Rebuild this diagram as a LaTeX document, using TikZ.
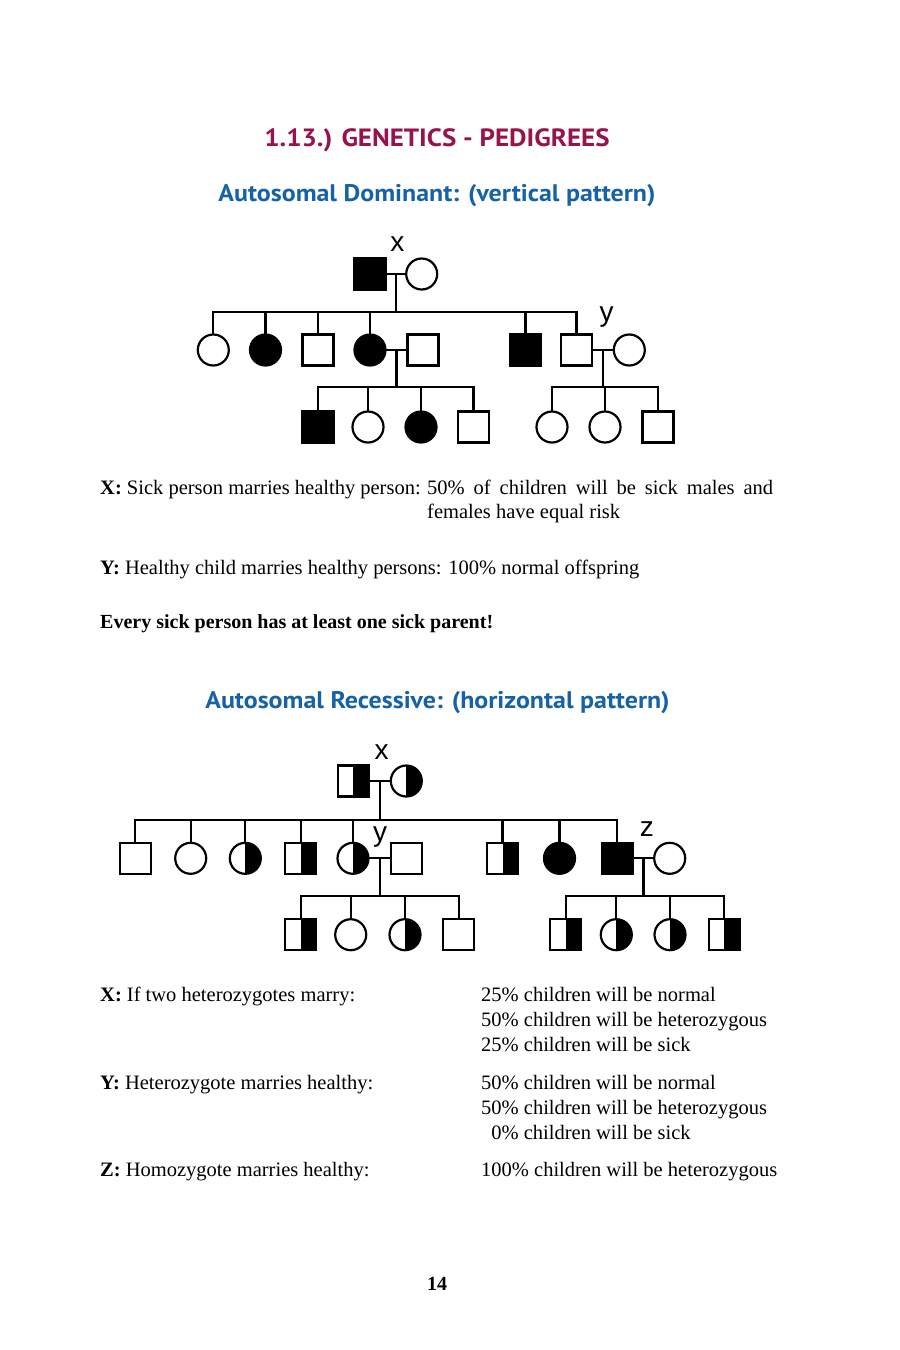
\documentclass[tikz,border=0pt]{standalone}
\usepackage{fontspec}
\setmainfont{Liberation Serif}
\newfontfamily\headfont[FakeStretch=1.08]{PT Sans}
\newfontfamily\labfont{Liberation Sans}
\usetikzlibrary{calc}
\definecolor{titlered}{RGB}{152,18,78}
\definecolor{headblue}{RGB}{22,98,168}
\begin{document}
\begin{tikzpicture}[x=1pt,y=-1pt,
  ind/.style={draw=black,line width=2.2pt,minimum size=31pt,inner sep=0pt,outer sep=0pt},
  msq/.style={ind,rectangle},
  fcirc/.style={ind,circle},
  aff/.style={fill=black},
  carrier/.style={path picture={\fill[black] (path picture bounding box.north) rectangle (path picture bounding box.south east);}},
  link/.style={line width=2.3pt,line join=miter},
  lab/.style={font=\labfont\fontsize{28}{28}\selectfont,anchor=base,inner sep=0pt},
  body/.style={font=\fontsize{20.5}{24}\selectfont,anchor=base west,inner sep=0pt},
  title/.style={font=\headfont\bfseries\fontsize{25}{30}\selectfont,text=titlered,anchor=base,inner sep=0pt},
  subtitle/.style={font=\headfont\bfseries\fontsize{24}{28}\selectfont,text=headblue,anchor=base,inner sep=0pt},
]
\fill[white] (0,0) rectangle (900,1350);
\useasboundingbox (0,0) rectangle (900,1350);

% ---------- titles ----------
\node[title] (t0) at (437,146.5) {1.13.) GENETICS - PEDIGREES};
\node[subtitle] (t1) at (437,201) {Autosomal Dominant: (vertical pattern)};
\node[subtitle] (t2) at (437.5,708) {Autosomal Recessive: (horizontal pattern)};

% ---------- dominant pedigree ----------
\node[msq,aff] (A1) at (370,274) {};
\node[fcirc] (A2) at (421.7,274) {};
\node[fcirc] (B1) at (213.3,350) {};
\node[fcirc,aff] (B2) at (265.5,350) {};
\node[msq] (B3) at (318,350) {};
\node[fcirc,aff] (B4) at (370,350) {};
\node[msq] (B5) at (423,350) {};
\node[msq,aff] (B6) at (525.5,350) {};
\node[msq] (B7) at (576.5,350) {};
\node[fcirc] (B8) at (629.3,350) {};
\node[msq,aff] (C1) at (318,427) {};
\node[fcirc] (C2) at (368,427) {};
\node[fcirc,aff] (C3) at (421,427) {};
\node[msq] (C4) at (473.5,427) {};
\node[fcirc] (C5) at (552,427) {};
\node[fcirc] (C6) at (605,427) {};
\node[msq] (C7) at (658,427) {};
\node[lab] (lx1) at (397.3,251.7) {x};
\node[lab] (ly1) at (606.7,321.7) {y};

\coordinate (bar1) at (0,312.3);
\coordinate (bar2) at (0,387.3);
\draw[link] (A1) -- (A2);
\coordinate (mA) at ($(A1.east)!0.5!(A2.west)$);
\draw[link] (mA) -- (mA |- bar1);
\draw[link] (B1.north) -- (B1.north |- bar1) -- (B7.north |- bar1) -- (B7.north);
\foreach \n in {B2,B3,B4,B6} \draw[link] (\n.north) -- (\n.north |- bar1);
\draw[link] (B4) -- (B5);
\coordinate (mB) at ($(B4.east)!0.5!(B5.west)$);
\draw[link] (mB) -- (mB |- bar2);
\draw[link] (C1.north) -- (C1.north |- bar2) -- (C4.north |- bar2) -- (C4.north);
\foreach \n in {C2,C3} \draw[link] (\n.north) -- (\n.north |- bar2);
\draw[link] (B7) -- (B8);
\coordinate (mC) at ($(B7.east)!0.5!(B8.west)$);
\draw[link] (mC) -- (mC |- bar2);
\draw[link] (C5.north) -- (C5.north |- bar2) -- (C7.north |- bar2) -- (C7.north);
\draw[link] (C6.north) -- (C6.north |- bar2);

% ---------- dominant text ----------
\node[body] (d1) at (100,494) {\textbf{X:} Sick person marries healthy person:};
\node[body] (d2) at (427,494) {\makebox[346pt][s]{50\% of children will be sick males and}};
\node[body] (d3) at (427,518) {females have equal risk};
\node[body] (d4) at (100,574) {\textbf{Y:} Healthy child marries healthy persons: 100\% normal offspring};
\node[body,font=\fontsize{20}{24}\selectfont] (d5) at (100,628) {\textbf{Every sick person has at least one sick parent!}};

% ---------- recessive pedigree ----------
\node[msq,carrier] (D1) at (353.3,781) {};
\node[fcirc,carrier] (D2) at (406.3,781) {};
\node[msq] (E1) at (135.2,858.3) {};
\node[fcirc] (E2) at (190.7,858.3) {};
\node[fcirc,carrier] (E3) at (245.3,858.3) {};
\node[msq,carrier] (E4) at (300.8,858.3) {};
\node[fcirc,carrier] (E5) at (353,858.3) {};
\node[msq] (E6) at (406.3,858.3) {};
\node[msq,carrier] (E7) at (502.5,858.3) {};
\node[fcirc,aff] (E8) at (559.5,858.3) {};
\node[msq,aff] (E9) at (617.2,858.3) {};
\node[fcirc] (E10) at (669.7,858.3) {};
\node[msq,carrier] (F1) at (300.8,934.7) {};
\node[fcirc] (F2) at (350.7,934.7) {};
\node[fcirc,carrier] (F3) at (405,934.7) {};
\node[msq] (F4) at (458.7,934.7) {};
\node[msq,carrier] (F5) at (565.8,934.7) {};
\node[fcirc,carrier] (F6) at (616.3,934.7) {};
\node[fcirc,carrier] (F7) at (670,934.7) {};
\node[msq,carrier] (F8) at (724.2,934.7) {};
\node[lab] (lx2) at (381.7,759.3) {x};
\node[lab] (ly2) at (380,841.7) {y};
\node[lab] (lz2) at (646.8,836) {z};

\coordinate (bar3) at (0,820);
\coordinate (bar4) at (0,895.7);
\draw[link] (D1) -- (D2);
\coordinate (mD) at ($(D1.east)!0.5!(D2.west)$);
\draw[link] (mD) -- (mD |- bar3);
\draw[link] (E1.north) -- (E1.north |- bar3) -- (E9.north |- bar3) -- (E9.north);
\foreach \n in {E2,E3,E4,E5,E7,E8} \draw[link] (\n.north) -- (\n.north |- bar3);
\draw[link] (E5) -- (E6);
\coordinate (mE) at ($(E5.east)!0.5!(E6.west)$);
\draw[link] (mE) -- (mE |- bar4);
\draw[link] (F1.north) -- (F1.north |- bar4) -- (F4.north |- bar4) -- (F4.north);
\foreach \n in {F2,F3} \draw[link] (\n.north) -- (\n.north |- bar4);
\draw[link] (E9) -- (E10);
\coordinate (mF) at ($(E9.east)!0.5!(E10.west)$);
\draw[link] (mF) -- (mF |- bar4);
\draw[link] (F5.north) -- (F5.north |- bar4) -- (F8.north |- bar4) -- (F8.north);
\foreach \n in {F6,F7} \draw[link] (\n.north) -- (\n.north |- bar4);

% ---------- recessive text ----------
\node[body] (r1) at (100,1001) {\textbf{X:} If two heterozygotes marry:};
\node[body] (r2) at (481,1001) {25\% children will be normal};
\node[body] (r3) at (481,1026) {50\% children will be heterozygous};
\node[body] (r4) at (481,1051) {25\% children will be sick};
\node[body] (r5) at (100,1089) {\textbf{Y:} Heterozygote marries healthy:};
\node[body] (r6) at (481,1089) {50\% children will be normal};
\node[body] (r7) at (481,1114) {50\% children will be heterozygous};
\node[body] (r8) at (481,1139) {\phantom{1}0\% children will be sick};
\node[body] (r9) at (100,1176) {\textbf{Z:} Homozygote marries healthy:};
\node[body] (r10) at (481,1176) {100\% children will be heterozygous};

\node[font=\bfseries\fontsize{20}{20}\selectfont,anchor=base,inner sep=0pt] (pg) at (437,1290) {14};
\end{tikzpicture}
\end{document}
